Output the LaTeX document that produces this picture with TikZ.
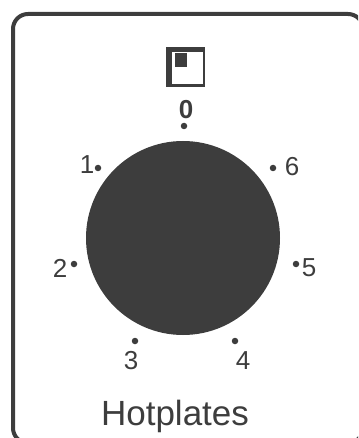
\documentclass[tikz,border=0pt]{standalone}
\usepackage{fontspec}
\setmainfont{Liberation Sans}
\usepackage{tikz}
\definecolor{panelink}{gray}{0.24}
\tikzset{
  tick/.style={circle,fill=panelink,inner sep=0pt,minimum size=6.5pt},
  mark label/.style={text=panelink,inner sep=0pt,font=\fontsize{26}{26}\selectfont},
}

\begin{document}
\begin{tikzpicture}[x=1pt,y=-1pt]
\useasboundingbox (0,0) rectangle (358,438);
\clip (0,0) rectangle (358,438);

\node[draw=panelink,line width=4pt,rounded corners=15pt,inner sep=0pt,minimum width=350pt,minimum height=429pt,anchor=north west] (panel) at (11,12) {};
\node[circle,fill=panelink,inner sep=0pt,minimum size=194pt] (dial) at (183,238) {};

\node[fill=panelink,inner sep=0pt,minimum width=39pt,minimum height=40pt,anchor=north west] (icon) at (166,47) {};
\node[fill=white,inner sep=0pt,minimum width=31pt,minimum height=32pt,anchor=north west] (iconwindow) at (172,52) {};
\node[fill=panelink,inner sep=0pt,minimum width=12pt,minimum height=14pt,anchor=north west] (iconflag) at (175,53) {};

\node[tick] (tick0) at (184,126) {};
\node[tick] (tick1) at (98,168) {};
\node[tick] (tick2) at (74,264) {};
\node[tick] (tick3) at (135,341) {};
\node[tick] (tick4) at (235,341) {};
\node[tick] (tick5) at (296,264) {};
\node[tick] (tick6) at (273,168) {};

\node[mark label,font=\fontsize{26}{26}\selectfont\bfseries] (label0) at (186,110) {0};
\node[mark label] (label1) at (87,165) {1};
\node[mark label] (label2) at (60,268) {2};
\node[mark label] (label3) at (131,361) {3};
\node[mark label] (label4) at (243,361) {4};
\node[mark label] (label5) at (309,268) {5};
\node[mark label] (label6) at (292,167) {6};

\node[text=panelink,inner sep=0pt,font=\fontsize{35}{35}\selectfont,anchor=base] (title) at (175,425) {Hotplates};
\end{tikzpicture}
\end{document}
